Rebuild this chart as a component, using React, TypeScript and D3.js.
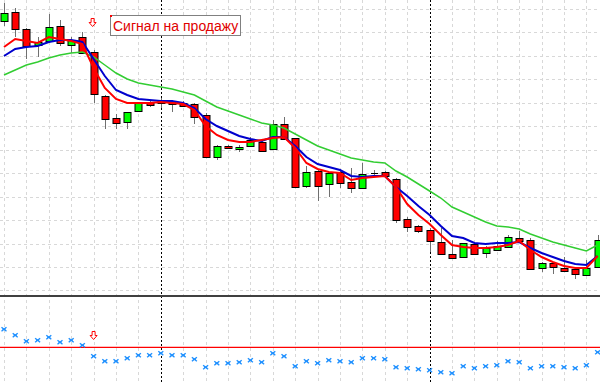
import React from "react";
import * as d3 from "d3";

const W = 600;
const H = 382;

// OHLC data (price)
const openP = [1.3679,1.3688,1.3671,1.3655,1.3659,1.3674,1.3655,1.3663,1.3648,1.3604,1.3582,1.3578,1.3589,1.3598,1.3599,1.3599,1.3597,1.3596,1.3585,1.3543,1.3554,1.3551,1.3554,1.3558,1.3551,1.3576,1.3562,1.3514,1.3529,1.3516,1.3528,1.3518,1.3512,1.3527,1.3528,1.3521,1.3481,1.3474,1.3470,1.3458,1.3446,1.3443,1.3456,1.3447,1.3450,1.3453,1.3462,1.3460,1.3432,1.3437,1.3432,1.3431,1.3425,1.3433];
const highP = [1.3697,1.3692,1.3672,1.3663,1.3686,1.3680,1.3663,1.3668,1.3650,1.3605,1.3586,1.3588,1.3598,1.3600,1.3602,1.3600,1.3599,1.3597,1.3587,1.3555,1.3555,1.3555,1.3563,1.3561,1.3580,1.3583,1.3562,1.3534,1.3530,1.3528,1.3531,1.3532,1.3537,1.3530,1.3529,1.3522,1.3483,1.3475,1.3472,1.3472,1.3460,1.3457,1.3458,1.3454,1.3459,1.3465,1.3469,1.3462,1.3438,1.3438,1.3443,1.3432,1.3440,1.3465];
const lowP = [1.3674,1.3663,1.3641,1.3643,1.3657,1.3654,1.3647,1.3646,1.3597,1.3571,1.3571,1.3571,1.3588,1.3593,1.3592,1.3588,1.3593,1.3576,1.3542,1.3540,1.3551,1.3548,1.3553,1.3549,1.3550,1.3560,1.3512,1.3512,1.3499,1.3503,1.3512,1.3507,1.3511,1.3523,1.3523,1.3477,1.3468,1.3467,1.3448,1.3445,1.3441,1.3442,1.3445,1.3442,1.3449,1.3452,1.3458,1.3430,1.3428,1.3426,1.3428,1.3421,1.3424,1.3432];
const closeP = [1.3687,1.3671,1.3654,1.3658,1.3673,1.3657,1.3660,1.3647,1.3606,1.3581,1.3577,1.3588,1.3597,1.3595,1.3597,1.3596,1.3594,1.3583,1.3543,1.3554,1.3552,1.3553,1.3560,1.3549,1.3576,1.3561,1.3513,1.3528,1.3514,1.3527,1.3517,1.3512,1.3526,1.3527,1.3524,1.3480,1.3473,1.3469,1.3459,1.3446,1.3442,1.3457,1.3446,1.3452,1.3454,1.3463,1.3459,1.3431,1.3437,1.3433,1.3429,1.3426,1.3432,1.3460];

// Moving averages
const maFast = [1.3653,1.3661,1.3659,1.3657,1.3663,1.3661,1.3659,1.3656,1.3632,1.3612,1.3601,1.3597,1.3597,1.3597,1.3598,1.3597,1.3596,1.3590,1.3574,1.3565,1.3560,1.3558,1.3558,1.3560,1.3562,1.3563,1.3552,1.3537,1.3531,1.3528,1.3527,1.3520,1.3522,1.3523,1.3524,1.3513,1.3496,1.3485,1.3476,1.3465,1.3455,1.3453,1.3452,1.3452,1.3453,1.3455,1.3459,1.3450,1.3443,1.3438,1.3434,1.3432,1.3432,1.3444];
const maMid = [1.3644,1.3651,1.3653,1.3654,1.3658,1.3660,1.3660,1.3658,1.3641,1.3624,1.3610,1.3605,1.3601,1.3600,1.3599,1.3599,1.3597,1.3592,1.3581,1.3574,1.3569,1.3564,1.3561,1.3559,1.3563,1.3563,1.3554,1.3543,1.3536,1.3533,1.3530,1.3524,1.3523,1.3524,1.3524,1.3513,1.3504,1.3494,1.3485,1.3474,1.3464,1.3462,1.3457,1.3456,1.3457,1.3457,1.3458,1.3452,1.3447,1.3443,1.3439,1.3436,1.3435,1.3444];
const maSlow = [1.3625,1.3630,1.3635,1.3638,1.3642,1.3645,1.3647,1.3648,1.3643,1.3635,1.3627,1.3621,1.3617,1.3615,1.3613,1.3611,1.3608,1.3605,1.3599,1.3593,1.3589,1.3585,1.3581,1.3577,1.3575,1.3572,1.3566,1.3560,1.3554,1.3550,1.3546,1.3542,1.3540,1.3538,1.3537,1.3529,1.3523,1.3516,1.3509,1.3502,1.3493,1.3488,1.3483,1.3478,1.3474,1.3473,1.3471,1.3466,1.3462,1.3458,1.3455,1.3452,1.3449,1.3455];

// Lower indicator
const indicator = [18,12,6,7,10,5,7,2,-9,-14,-14,-11,-8,-8,-6,-8,-8,-12,-20,-16,-16,-15,-13,-15,-6,-9,-19,-14,-16,-13,-14,-15,-11,-11,-12,-20,-21,-22,-23,-25,-26,-19,-21,-19,-18,-14,-15,-21,-19,-19,-20,-21,-18,-5];
const indicatorLevel = 0;

const gridPrices = [1.36915,1.3668,1.36445,1.3621,1.35975,1.3574,1.35505,1.3527,1.35035,1.348,1.34565,1.3433,1.34095];
const sessionBreaks = [14, 38];
const signalIndex = 8;
const signalText = "Сигнал на продажу";

export default function App() {
  const n = openP.length;
  const x = d3.scaleLinear().domain([0, n - 1]).range([4, 597.6]);
  const y = d3.scaleLinear().domain([1.37, 1.34]).range([0, 300]);
  const yi = d3.scaleLinear().domain([0, 10]).range([347.3, 337.3]);
  const sepY = 296;

  const line = d3.line<number>().x((_, i) => x(i)).y((d) => y(d));
  const vgrid = d3.range(0, n, 2).filter((i) => !sessionBreaks.includes(i));
  const bw = 7;

  const arrow = (cx: number, top: number) => {
    const p = d3.path();
    p.moveTo(cx - 1.5, top);
    p.lineTo(cx + 1.5, top);
    p.lineTo(cx + 1.5, top + 4);
    p.lineTo(cx + 3.5, top + 4);
    p.lineTo(cx, top + 8);
    p.lineTo(cx - 3.5, top + 4);
    p.lineTo(cx - 1.5, top + 4);
    p.closePath();
    return p.toString();
  };

  return (
    <div style={{ position: "fixed", left: 0, top: 0 }}>
      <svg width={W} height={H} style={{ display: "block", background: "#fff" }}>
        {/* grid */}
        {gridPrices.map((p, k) => (
          <line key={"h" + k} x1={0} x2={W} y1={Math.round(y(p)) + 0.5} y2={Math.round(y(p)) + 0.5}
            stroke="#d8d8d8" strokeDasharray="3,3" strokeWidth={1} />
        ))}
        {vgrid.map((i) => (
          <line key={"v" + i} x1={Math.round(x(i)) + 0.5} x2={Math.round(x(i)) + 0.5} y1={0} y2={H}
            stroke="#d8d8d8" strokeDasharray="3,3" strokeWidth={1} />
        ))}
        {sessionBreaks.map((i) => (
          <line key={"s" + i} x1={Math.round(x(i)) + 0.5} x2={Math.round(x(i)) + 0.5} y1={0} y2={H}
            stroke="#000" strokeDasharray="2,2" strokeWidth={1} />
        ))}

        {/* candles */}
        {openP.map((o, i) => {
          const c = closeP[i];
          const cx = Math.round(x(i));
          const up = c > o;
          const doji = Math.abs(c - o) < 0.00005;
          const top = y(Math.max(o, c));
          const bot = y(Math.min(o, c));
          return (
            <g key={"c" + i}>
              <line x1={cx + 0.5} x2={cx + 0.5} y1={y(highP[i])} y2={y(lowP[i])} stroke="#707070" strokeWidth={1} />
              {doji ? (
                <line x1={cx - 3} x2={cx + 4} y1={Math.round(top) + 0.5} y2={Math.round(top) + 0.5} stroke="#000" />
              ) : (
                <rect x={cx - bw / 2 + 0.5} y={Math.round(top) + 0.5} width={bw} height={Math.max(1, Math.round(bot - top))}
                  fill={up ? "#00ff00" : "#ff0000"} stroke="#000" strokeWidth={1} />
              )}
            </g>
          );
        })}

        {/* moving averages */}
        <path d={line(maSlow) || ""} fill="none" stroke="#32cd32" strokeWidth={1.5} />
        <path d={line(maMid) || ""} fill="none" stroke="#0000cd" strokeWidth={2} />
        <path d={line(maFast) || ""} fill="none" stroke="#ff0000" strokeWidth={2} />

        {/* signal arrow & label */}
        <path d={arrow(x(signalIndex) - 1, 18.5)} fill="#fff" stroke="#ff0000" strokeWidth={1} />
        <rect x={110.5} y={15.5} width={130} height={20} fill="#fff" stroke="#808080" strokeWidth={1} />
        <rect x={110} y={15} width={2} height={2} fill="#ff0000" />
        <text x={113} y={31} fontFamily="'Liberation Sans', Arial, sans-serif" fontSize={14} fill="#e00000">
          {signalText}
        </text>

        {/* separator */}
        <line x1={0} x2={W} y1={sepY} y2={sepY} stroke="#404040" strokeWidth={2} />

        {/* lower indicator */}
        <line x1={0} x2={W} y1={yi(indicatorLevel)} y2={yi(indicatorLevel)} stroke="#ff0000" strokeWidth={1.2} />
        {indicator.map((v, i) => {
          const cx = x(i);
          const cy = yi(v);
          return (
            <g key={"m" + i} stroke="#1e90ff" strokeWidth={1.4}>
              <line x1={cx - 2.5} y1={cy - 2} x2={cx + 2.5} y2={cy + 2} />
              <line x1={cx - 2.5} y1={cy + 2} x2={cx + 2.5} y2={cy - 2} />
              <line x1={cx - 1.5} y1={cy} x2={cx + 1.5} y2={cy} />
            </g>
          );
        })}
        <path d={arrow(x(signalIndex), 331.5)} fill="#fff" stroke="#ff0000" strokeWidth={1} />
      </svg>
    </div>
  );
}
